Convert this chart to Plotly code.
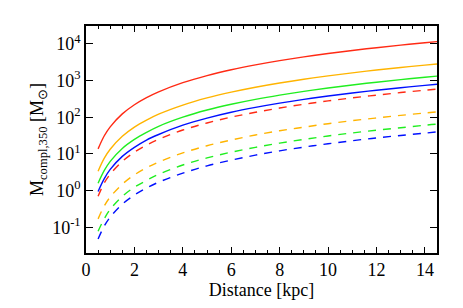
import plotly.graph_objects as go

distance = [0.5, 0.75, 1, 1.5, 2, 2.5, 3, 4, 5, 6, 7, 8, 9, 10, 11, 12, 13, 14, 14.5]

red_solid = [13.8, 31, 55, 124, 220, 344, 495, 880, 1375, 1980, 2695, 3520, 4455, 5500, 6655, 7920, 9295, 10780, 11560]
orange_solid = [3.4, 7.6, 13.5, 30.4, 54, 84, 122, 216, 338, 486, 662, 864, 1094, 1350, 1634, 1944, 2282, 2646, 2840]
green_solid = [1.6, 3.5, 6.3, 14.2, 25, 39, 57, 101, 158, 227, 309, 403, 510, 630, 762, 907, 1065, 1235, 1325]
blue_solid = [0.95, 2.1, 3.8, 8.6, 15.2, 24, 34, 61, 95, 137, 186, 243, 308, 380, 460, 547, 642, 745, 800]

red_dashed = [0.70, 1.6, 2.8, 6.3, 11.2, 17.5, 25, 45, 70, 101, 137, 179, 227, 280, 339, 403, 473, 549, 590]
orange_dashed = [0.17, 0.38, 0.67, 1.5, 2.7, 4.2, 6.0, 10.7, 16.8, 24, 33, 43, 54, 67, 81, 96, 113, 131, 141]
green_dashed = [0.078, 0.17, 0.31, 0.70, 1.24, 1.9, 2.8, 5.0, 7.8, 11.2, 15.2, 19.8, 25, 31, 37.5, 44.6, 52, 61, 65]
blue_dashed = [0.048, 0.107, 0.19, 0.43, 0.76, 1.19, 1.7, 3.0, 4.75, 6.8, 9.3, 12.2, 15.4, 19, 23, 27.4, 32, 37, 40]

y_tickvals = [0.1, 1, 10, 100, 1000, 10000]
y_ticktext = ["10<sup>-1</sup>", "10<sup>0</sup>", "10<sup>1</sup>", "10<sup>2</sup>", "10<sup>3</sup>", "10<sup>4</sup>"]
x_tickvals = [0, 2, 4, 6, 8, 10, 12, 14]

RED = "#ff2a14"
ORANGE = "#ffb400"
GREEN = "#20ee20"
BLUE = "#0010ff"

series = [
    (red_solid, RED, "solid"),
    (orange_solid, ORANGE, "solid"),
    (green_solid, GREEN, "solid"),
    (blue_solid, BLUE, "solid"),
    (red_dashed, RED, "8px,7px"),
    (orange_dashed, ORANGE, "8px,7px"),
    (green_dashed, GREEN, "8px,7px"),
    (blue_dashed, BLUE, "8px,7px"),
]

fig = go.Figure()
for vals, col, dash in series:
    fig.add_trace(go.Scatter(
        x=distance, y=vals, mode="lines",
        line=dict(color=col, width=1.4, dash=dash, shape="spline", smoothing=1.0),
        showlegend=False, hoverinfo="skip",
    ))

font = dict(family="Times New Roman", size=18, color="black")

fig.update_layout(
    width=455, height=300,
    margin=dict(l=78, r=26, t=18, b=55),
    paper_bgcolor="white", plot_bgcolor="white",
    font=font,
    showlegend=False,
)
fig.update_xaxes(
    range=[0, 14.5],
    tickvals=x_tickvals,
    ticks="inside", ticklen=6, tickwidth=1, tickcolor="black",
    minor=dict(dtick=0.5, ticks="inside", ticklen=3, tickcolor="black"),
    showline=True, linecolor="black", linewidth=1.5, mirror="allticks",
    showgrid=False, zeroline=False,
    title=dict(text="Distance [kpc]", font=font, standoff=0),
    tickfont=font,
)
fig.update_yaxes(
    type="log",
    range=[-1.7, 4.49],
    tickvals=y_tickvals, ticktext=y_ticktext,
    ticks="inside", ticklen=7, tickwidth=1, tickcolor="black",
    showline=True, linecolor="black", linewidth=1.5, mirror="allticks",
    showgrid=False, zeroline=False,
    title=dict(text="M<sub>compl,350</sub> [M<sub>⊙</sub>]", font=font, standoff=4),
    tickfont=font,
)

fig.write_html("out.html")
